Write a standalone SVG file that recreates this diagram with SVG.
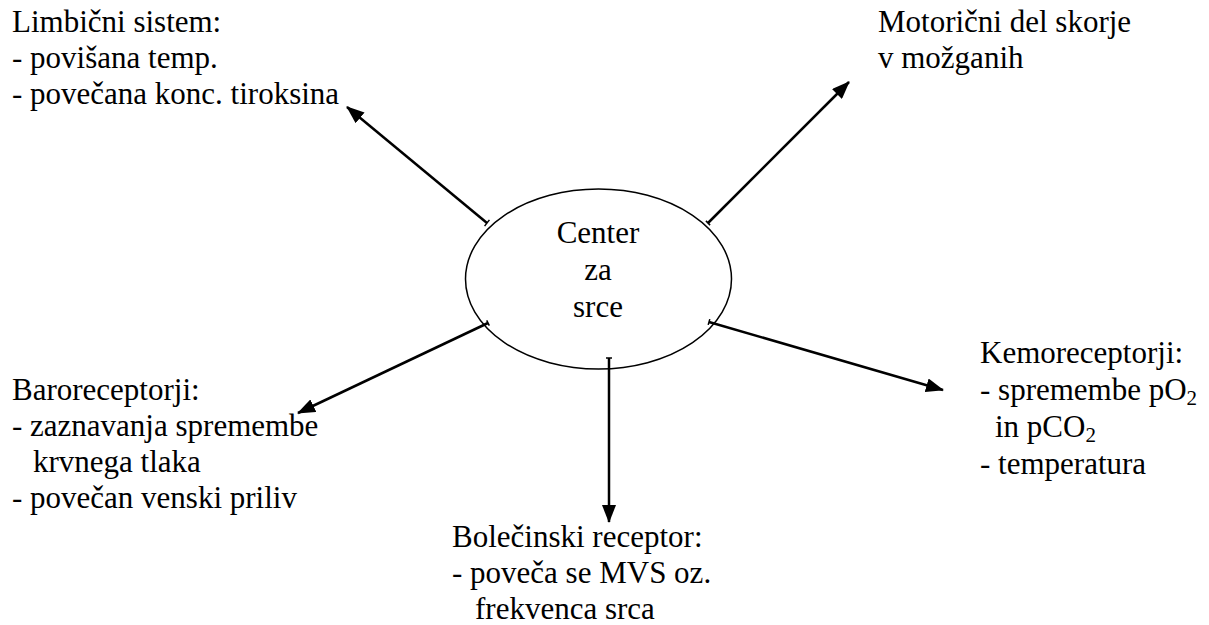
<svg xmlns="http://www.w3.org/2000/svg" width="1209" height="625" viewBox="0 0 1209 625">
<defs>
<marker id="ah" markerWidth="18" markerHeight="14" refX="17" refY="7" orient="auto" markerUnits="userSpaceOnUse" viewBox="0 0 18 14">
<path d="M0,0 L18,7 L0,14 z" fill="#000"/>
</marker>
<style>
.c{text-anchor:middle}
.ln{stroke:#000;stroke-width:2.5;fill:none}
.tk{stroke:#000;stroke-width:1.5}
</style>
</defs>
<rect width="1209" height="625" fill="#fff"/>
<g id="center">
<ellipse cx="598.5" cy="279" rx="133" ry="90" fill="none" stroke="#000" stroke-width="1.5"/>
<text font-family="Liberation Serif" font-size="31" class="c" x="598" y="243">Center</text>
<text font-family="Liberation Serif" font-size="31" class="c" x="598" y="280">za</text>
<text font-family="Liberation Serif" font-size="31" class="c" x="598" y="317">srce</text>
</g>
<g id="connectors">
<line class="ln" x1="487" y1="223" x2="347" y2="107" marker-end="url(#ah)"/>
<line class="ln" x1="708" y1="223" x2="849" y2="82" marker-end="url(#ah)"/>
<line class="ln" x1="488" y1="323" x2="298" y2="413" marker-end="url(#ah)"/>
<line class="ln" x1="709" y1="322" x2="943" y2="390" marker-end="url(#ah)"/>
<line class="ln" x1="609" y1="358" x2="609" y2="522" marker-end="url(#ah)"/>
<line class="tk" x1="484.6" y1="226.1" x2="489.4" y2="219.9"/>
<line class="tk" x1="705.9" y1="220.9" x2="710.1" y2="225.1"/>
<line class="tk" x1="486.7" y1="320.3" x2="489.3" y2="325.7"/>
<line class="tk" x1="709.8" y1="319.1" x2="708.2" y2="324.9"/>
<line class="tk" x1="606" y1="358" x2="612" y2="358"/>
</g>
<g id="limbicni">
<text font-family="Liberation Serif" font-size="31" x="12" y="32">Limbični sistem:</text>
<text font-family="Liberation Serif" font-size="31" x="12" y="68">- povišana temp.</text>
<text font-family="Liberation Serif" font-size="31" x="12" y="104">- povečana konc. tiroksina</text>
</g>
<g id="motoricni">
<text font-family="Liberation Serif" font-size="31" x="878" y="32">Motorični del skorje</text>
<text font-family="Liberation Serif" font-size="31" x="878" y="68">v možganih</text>
</g>
<g id="baroreceptorji">
<text font-family="Liberation Serif" font-size="31" x="12" y="400">Baroreceptorji:</text>
<text font-family="Liberation Serif" font-size="31" x="12" y="436">- zaznavanja spremembe</text>
<text font-family="Liberation Serif" font-size="31" x="33" y="472">krvnega tlaka</text>
<text font-family="Liberation Serif" font-size="31" x="12" y="508">- povečan venski priliv</text>
</g>
<g id="bolecinski">
<text font-family="Liberation Serif" font-size="31" x="452" y="547">Bolečinski receptor:</text>
<text font-family="Liberation Serif" font-size="31" x="452" y="583">- poveča se MVS oz.</text>
<text font-family="Liberation Serif" font-size="31" x="475" y="619">frekvenca srca</text>
</g>
<g id="kemoreceptorji">
<text font-family="Liberation Serif" font-size="31" x="980" y="363">Kemoreceptorji:</text>
<text font-family="Liberation Serif" font-size="31" x="980" y="400">- spremembe pO<tspan font-size="21" dy="5">2</tspan></text>
<text font-family="Liberation Serif" font-size="31" x="995" y="437">in pCO<tspan font-size="21" dy="5">2</tspan></text>
<text font-family="Liberation Serif" font-size="31" x="980" y="474">- temperatura</text>
</g>
</svg>
